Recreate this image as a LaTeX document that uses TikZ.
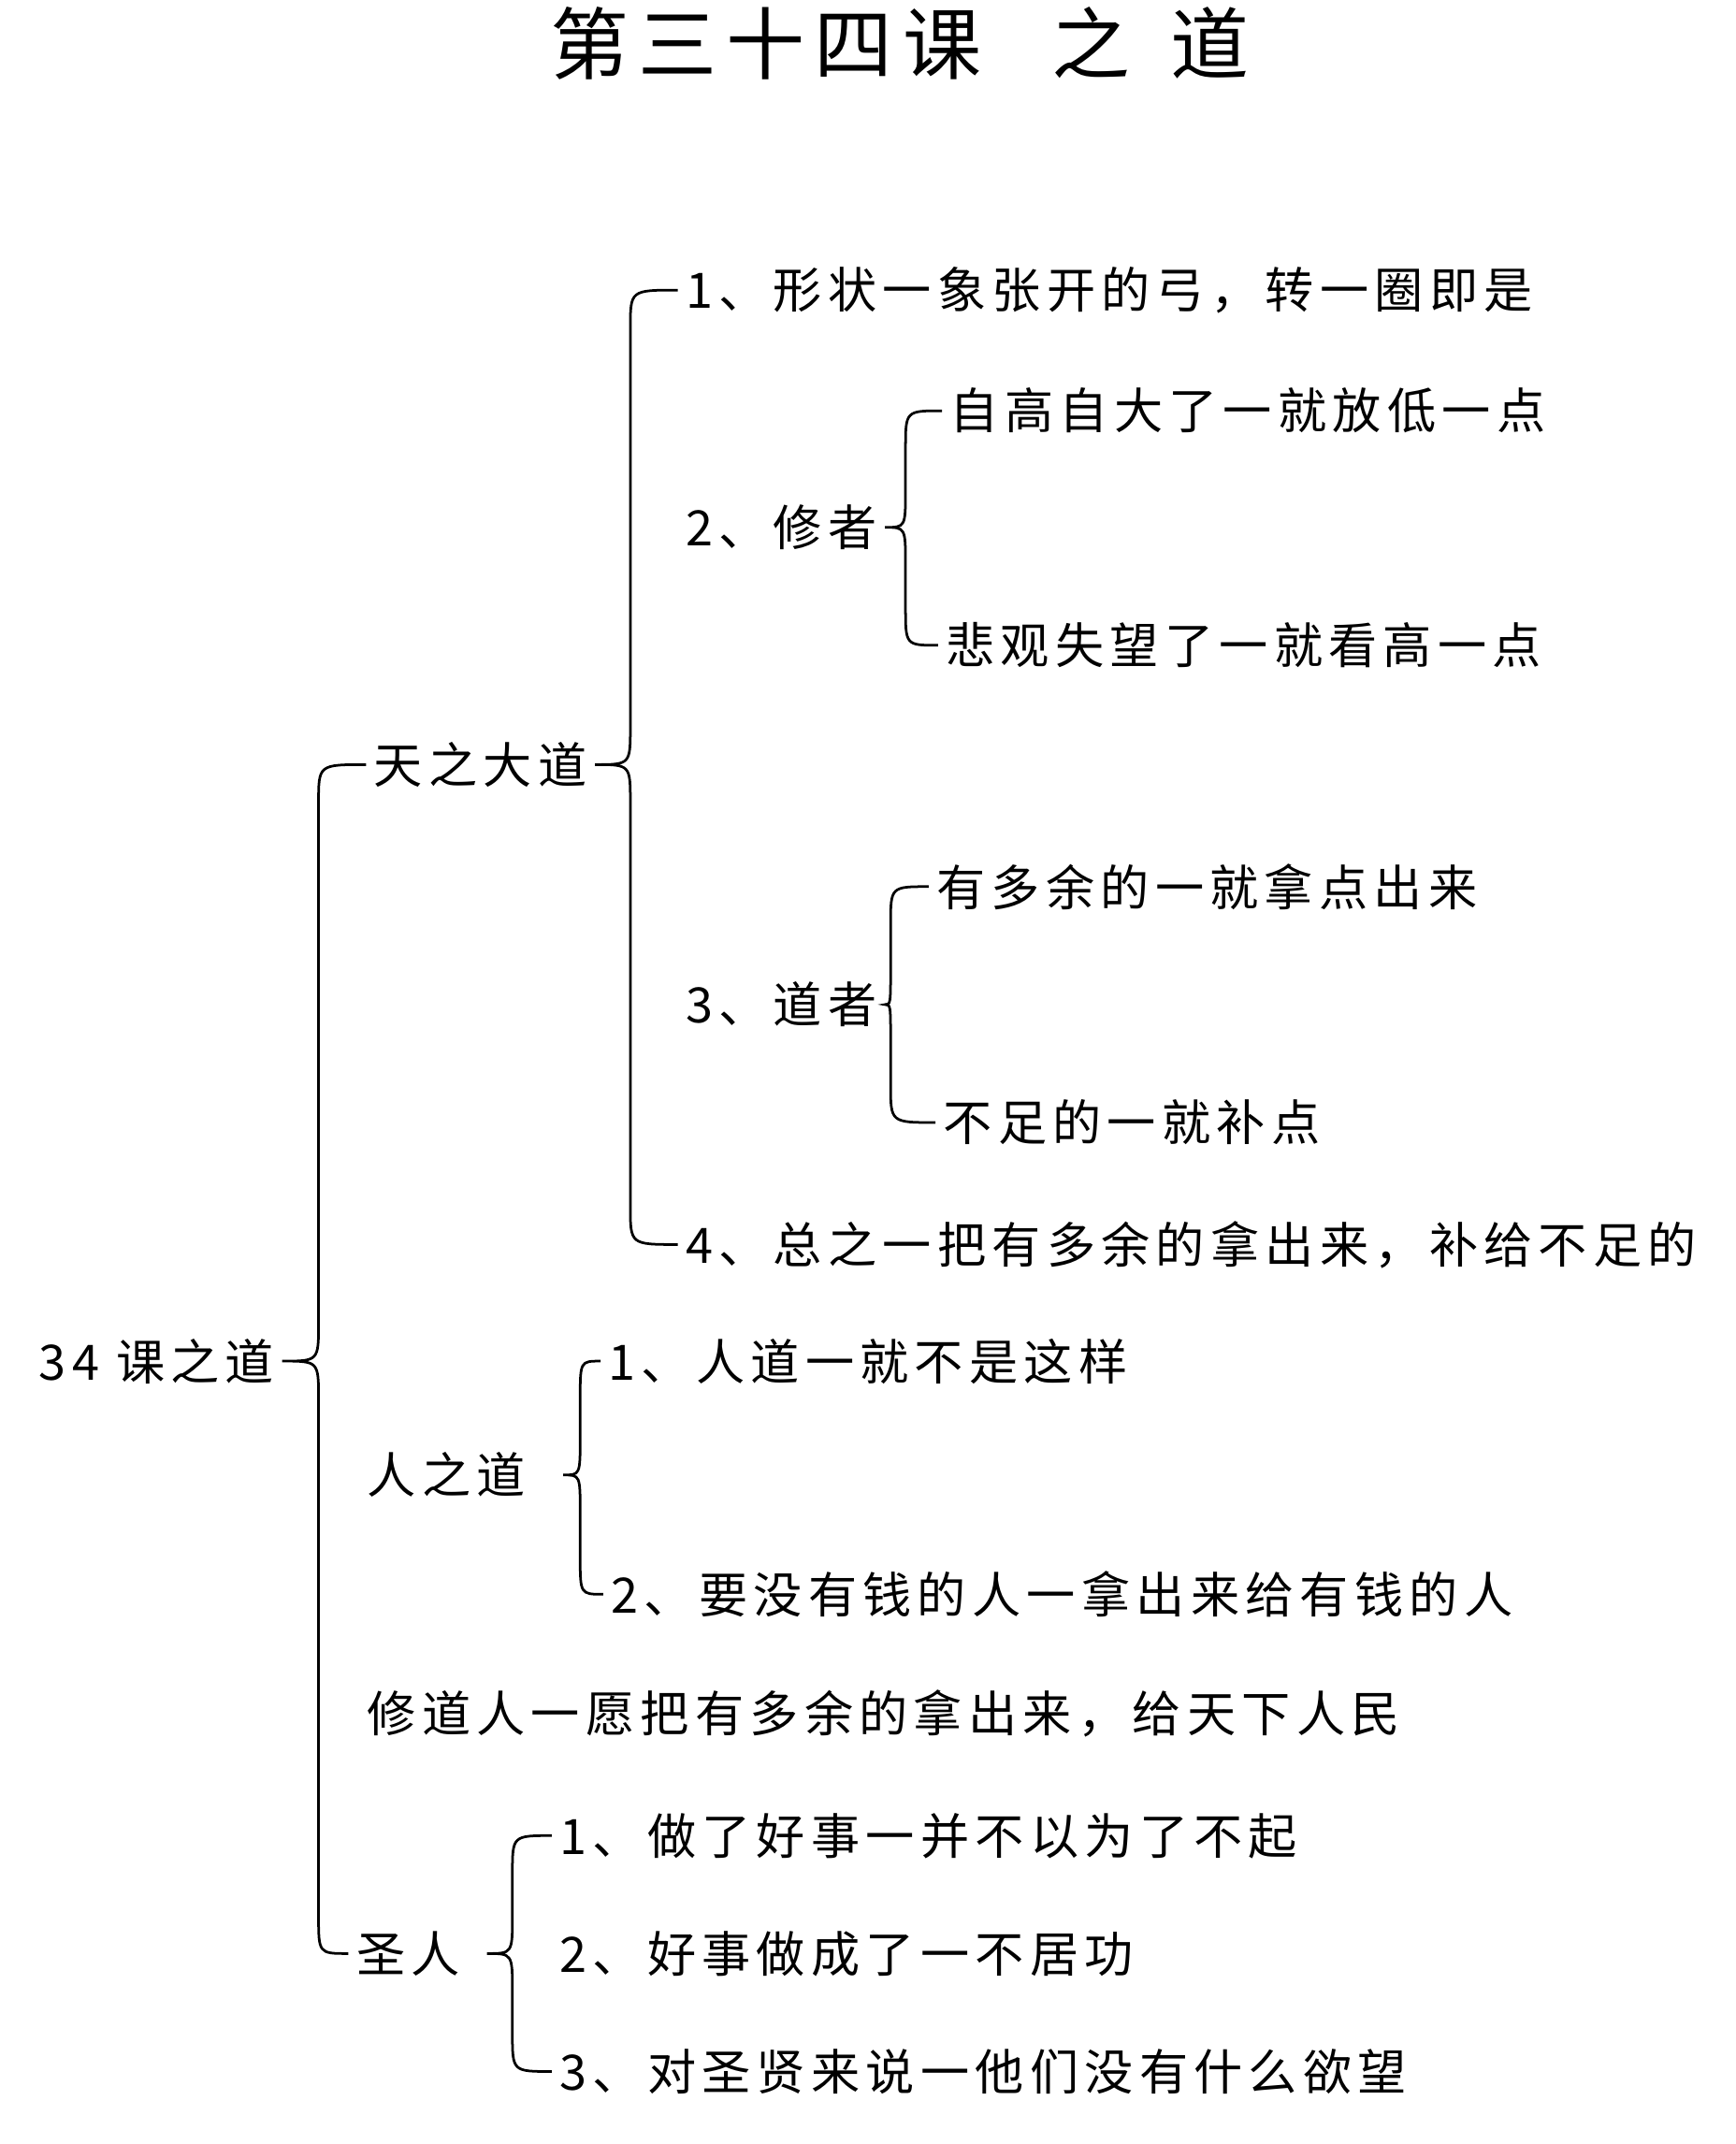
\documentclass[tikz,border=0pt]{standalone}
\usepackage{fontspec}
\setmainfont{Noto Sans CJK SC}[LetterSpace=12]
\usetikzlibrary{calc}
\tikzset{
  item/.style={anchor=west, inner sep=5pt, yshift=-6pt},
  ttl/.style={font=\fontsize{58pt}{62pt}\selectfont}
}
% brace: cusp, top node, bottom node, x of the spine
\newcommand{\curly}[4]{%
  \draw let \p1=(#1), \p2=(#2.west), \p3=(#3.west) in
    (\p2) .. controls (#4pt,\y2) .. (#4pt,\y2-28pt)
    -- (#4pt,\y1+28pt) .. controls (#4pt,\y1) .. (\p1)
    .. controls (#4pt,\y1) .. (#4pt,\y1-28pt)
    -- (#4pt,\y3+28pt) .. controls (#4pt,\y3) .. (\p3);
}
\begin{document}
\begin{tikzpicture}[x=1pt, y=-1pt, line width=1.9pt,
    font=\fontsize{36pt}{40pt}\selectfont]
  \useasboundingbox (0,0) rectangle (1280,1581.5);

  \node [ttl] (title) at (664,32) {第三十四课\hspace{52pt}之\hspace{30pt}道};

  \node [item] (root) at (23,998) {34 课之道};

  \node [item] (tian) at (270,558) {天之大道};
  \node [item] (t1) at (500,208) {1、形状一象张开的弓，转一圈即是};
  \node [item] (t2) at (500,383) {2、修者};
  \node [item] (t2a) at (695,297) {自高自大了一就放低一点};
  \node [item] (t2b) at (692,470) {悲观失望了一就看高一点};
  \node [item] (t3) at (500,735) {3、道者};
  \node [item] (t3a) at (685,648) {有多余的一就拿点出来};
  \node [item] (t3b) at (690,822) {不足的一就补点};
  \node [item] (t4) at (500,912) {4、总之一把有多余的拿出来，补给不足的};

  \node [item] (ren) at (265,1082) {人之道};
  \node [item] (r1) at (443,998) {1、人道一就不是这样};
  \node [item] (r2) at (445,1170) {2、要没有钱的人一拿出来给有钱的人};

  \node [item] (xiu) at (265,1258) {修道人一愿把有多余的拿出来，给天下人民};

  \node [item] (sheng) at (257,1435) {圣人};
  \node [item] (s1) at (407,1348) {1、做了好事一并不以为了不起};
  \node [item] (s2) at (407,1435) {2、好事做成了一不居功};
  \node [item] (s3) at (407,1522) {3、对圣贤来说一他们没有什么欲望};

  \curly{root.east}{tian}{sheng}{235}
  \curly{tian.east}{t1}{t4}{465}
  \curly{t2.east}{t2a}{t2b}{668}
  \curly{t3.east}{t3a}{t3b}{657}
  \curly{$(ren.east)+(22pt,0)$}{r1}{r2}{428}
  \curly{$(sheng.east)+(14pt,0)$}{s1}{s3}{378}
\end{tikzpicture}
\end{document}
